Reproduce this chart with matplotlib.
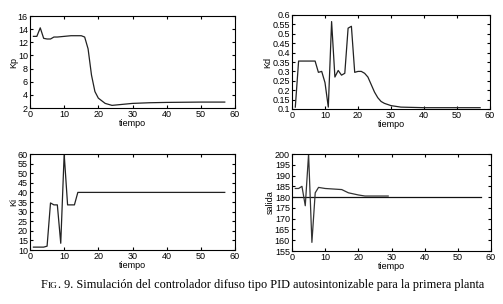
import matplotlib
matplotlib.use("Agg")
import matplotlib.pyplot as plt

kp_t = [1, 2, 3, 4, 5, 6, 7, 8, 10, 12, 15, 16, 17, 18, 19, 20, 22, 24, 26, 30, 35, 40, 50, 57]
kp_v = [12.9, 12.9, 14.2, 12.6, 12.5, 12.5, 12.8, 12.8, 12.9, 13.0, 13.0, 12.8, 11.0, 7.0, 4.5, 3.5, 2.7, 2.4, 2.5, 2.7, 2.8, 2.85, 2.9, 2.9]

kd_t = [1, 2, 7, 8, 9, 10, 11, 12, 13, 14, 15, 16, 17, 18, 19, 20, 21, 22, 23, 24, 25, 26, 27, 28, 30, 33, 40, 57]
kd_v = [0.11, 0.355, 0.355, 0.295, 0.30, 0.24, 0.11, 0.565, 0.27, 0.305, 0.28, 0.29, 0.53, 0.54, 0.295, 0.30, 0.30, 0.29, 0.27, 0.23, 0.19, 0.16, 0.14, 0.13, 0.118, 0.11, 0.107, 0.107]

ki_t = [1, 4, 5, 6, 7, 8, 9, 10, 11, 13, 14, 57]
ki_v = [11.5, 11.5, 12, 34.5, 33.5, 33.5, 13.5, 60, 33.5, 33.5, 40, 40]

sal_t = [1, 2, 3, 4, 5, 6, 7, 8, 10, 15, 17, 20, 22, 29]
sal_v = [184, 184, 185, 176, 200, 159, 182, 184.5, 184, 183.5, 182, 181, 180.5, 180.5]
ref_t = [0, 57]
ref_v = [180, 180]

plt.rcParams['font.family'] = ['Liberation Sans', 'DejaVu Sans']
fig = plt.figure(figsize=(5.03, 3.04), dpi=100)
W, H = 503, 304

def mkax(l, r, t, b):
    return fig.add_axes([l / W, 1 - b / H, (r - l) / W, (b - t) / H])

axes = [mkax(30, 235, 16, 108), mkax(292, 490, 15, 109),
        mkax(30, 235, 154, 250), mkax(292, 491, 154, 251)]

axes[0].plot(kp_t, kp_v, color='#222222', lw=0.9)
axes[0].set_ylim(2, 16)
axes[0].set_yticks(range(2, 17, 2))
axes[0].set_ylabel('Kp', labelpad=0)

axes[1].plot(kd_t, kd_v, color='#222222', lw=0.9)
axes[1].set_ylim(0.1, 0.6)
axes[1].set_yticks([0.1, 0.15, 0.2, 0.25, 0.3, 0.35, 0.4, 0.45, 0.5, 0.55, 0.6])
axes[1].set_yticklabels(['0.1', '0.15', '0.2', '0.25', '0.3', '0.35', '0.4', '0.45', '0.5', '0.55', '0.6'])
axes[1].set_ylabel('Kd', labelpad=0)

axes[2].plot(ki_t, ki_v, color='#222222', lw=0.9)
axes[2].set_ylim(10, 60)
axes[2].set_yticks(range(10, 61, 5))
axes[2].set_ylabel('Ki', labelpad=0)

axes[3].plot(ref_t, ref_v, color='#111111', lw=0.9)
axes[3].plot(sal_t, sal_v, color='#333333', lw=0.9)
axes[3].set_ylim(155, 200)
axes[3].set_yticks(range(155, 201, 5))
axes[3].set_ylabel('salida', labelpad=0)

for ax in axes:
    ax.set_xlim(0, 60)
    ax.set_xticks(range(0, 61, 10))
    ax.tick_params(direction='in', length=2.5, labelsize=6.5, pad=1.5, top=True, right=True)
    ax.set_xlabel('tiempo', fontsize=6.5, labelpad=0)
    ax.yaxis.label.set_size(6.5)
    for s in ax.spines.values():
        s.set_linewidth(0.8)

serif = ['Liberation Serif', 'DejaVu Serif']
fs = 8.85
ybase = 288
t1 = fig.text(41 / W, 1 - ybase / H, 'F', ha='left', va='baseline', fontsize=fs, family=serif)
fig.canvas.draw()
r = fig.canvas.get_renderer()
yb = fig.transFigure.transform((0, 1 - ybase / H))[1]
bb1 = t1.get_window_extent(r)
t2 = fig.text(bb1.x1, yb, 'IG', ha='left', va='baseline', fontsize=fs * 0.76, family=serif,
              transform=matplotlib.transforms.IdentityTransform())
fig.canvas.draw()
bb2 = t2.get_window_extent(r)
fig.text(bb2.x1, yb,
         '. 9. Simulación del controlador difuso tipo PID autosintonizable para la primera planta',
         ha='left', va='baseline', fontsize=fs, family=serif,
         transform=matplotlib.transforms.IdentityTransform())

fig.savefig('out.png', dpi=100)
